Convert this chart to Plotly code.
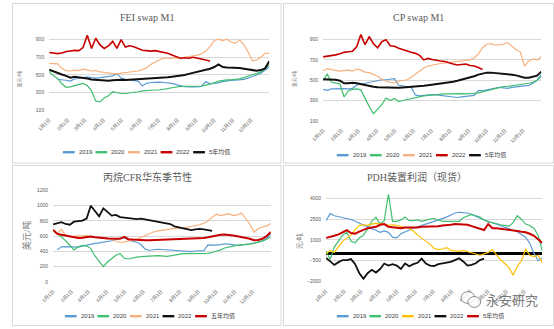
import pandas as pd
import plotly.graph_objects as go

FIG_W, FIG_H = 554, 329

# ---- shared x axis: weekly observations over one calendar year ----
week_dates = pd.date_range("2022-01-01", periods=53, freq="7D")
month_starts = pd.date_range("2022-01-01", periods=12, freq="MS")
month_labels = ["1月1日", "2月1日", "3月1日", "4月1日", "5月1日", "6月1日",
                "7月1日", "8月1日", "9月1日", "10月1日", "11月1日", "12月1日"]

# ---- FEI swap M1 (USD/t) ----
fei_2019 = [None, None, 450, 448, 440, 430, 455, 460, 470, 478, 470, 465, 470, 478, 485, 490, 515,
            465, 450, 445, 440, 430, 375, 405, 415, 420, 418, 415, 412, 405, 390, 375, 368, 365,
            362, 365, 370, 425, 400, 405, 410, 425, 435, 438, 440, 445, 450, 465, 480, 500, 520,
            550, 590]
fei_2020 = [540, 490, 460, 400, 360, 365, 380, 390, 405, 380, 320, 205, 195, 240, 265, 310, 300,
            290, 290, 295, 300, 310, 320, 325, 325, 330, 330, 335, 345, 355, 365, 370, 370, 372,
            375, 372, 375, 385, 395, 410, 430, 440, 445, 445, 450, 455, 470, 490, 505, 515, 535,
            565, 620]
fei_2021 = [630, 630, 625, 575, 550, 545, 555, 550, 565, 555, 545, 550, 535, 530, 520, 515, 515,
            520, 525, 528, 535, 545, 560, 580, 620, 650, 670, 690, 690, 685, 690, 690, 700, 705,
            715, 725, 740, 770, 820, 890, 905, 890, 905, 870, 860, 895, 840, 760, 660, 670, 700,
            745, 745]
fei_2022 = [755, 750, 742, 748, 765, 772, 778, 775, 810, 950, 800, 915, 840, 800, 830, 880, 800,
            900, 815, 830, 820, 800, 780, 775, 770, 775, 765, 755, 745, 725, 710, 690, 695, 690,
            700, 690, 685, 670, 655]
fei_avg = [560, 540, 520, 505, 490, 470, 480, 475, 470, 460, 450, 445, 440, 438, 435, 440, 445,
           445, 442, 445, 446, 448, 450, 452, 456, 462, 468, 472, 475, 480, 485, 492, 500, 512,
           525, 540, 550, 560, 570, 590, 620, 590, 585, 585, 580, 578, 570, 562, 550, 548, 555,
           575, 655]

# ---- CP swap M1 (USD/t) ----
cp_2019 = [410, 400, 415, 418, 418, 418, 415, 420, 450, 465, 470, 480, 490, 495, 505, 505, 510,
           515, 450, 445, 440, 430, 355, 345, 350, 355, 358, 355, 350, 345, 340, 335, 330, 335,
           340, 345, 350, 400, 395, 405, 415, 425, 430, 425, 420, 430, 435, 440, 445, 450, 470,
           500, 555]
cp_2020 = [500, 560, 480, 470, 465, 335, 395, 410, 415, 405, 320, 240, 170, 220, 260, 325, 300,
           320, 290, 300, 310, 320, 330, 340, 345, 350, 355, 360, 362, 365, 365, 368, 370, 368,
           365, 365, 370, 375, 385, 395, 410, 420, 430, 438, 440, 445, 450, 455, 460, 470, 480,
           500, 535]
cp_2021 = [590, 615, 605, 600, 590, 595, 600, 590, 610, 600, 580, 575, 560, 540, 510, 490, 480,
           475, 490, 495, 505, 530, 560, 585, 620, 640, 650, 660, 665, 670, 675, 680, 685, 690,
           695, 700, 720, 760, 820, 855, 860, 845, 850, 855, 870, 830, 800, 780, 640, 690, 710,
           700, 735]
cp_2022 = [730, 735, 745, 750, 760, 775, 780, 785, 830, 950, 850, 930, 860, 820, 880, 900, 840,
           835, 815, 800, 790, 775, 765, 745, 700, 715, 705, 695, 690, 685, 670, 660, 650, 655,
           660, 645, 640, 625, 605]
cp_avg = [510, 510, 508, 505, 495, 470, 470, 475, 470, 460, 450, 440, 435, 430, 428, 432, 430,
          428, 425, 428, 430, 432, 435, 440, 445, 450, 455, 460, 468, 472, 478, 485, 495, 505,
          515, 525, 540, 555, 565, 575, 575, 572, 570, 565, 562, 555, 548, 535, 525, 525, 535,
          545, 585]

# ---- Propane CFR East China (USD/t) ----
cfr_2019 = [None, 420, 460, 462, 462, 458, 455, 470, 485, 495, 505, 512, 520, 530, 540, 555, 575,
            580, 550, 535, 520, 490, 430, 415, 425, 428, 425, 420, 415, 410, 405, 400, 395, 398,
            405, 408, 410, 485, 480, 482, 488, 500, 495, 485, 480, 485, 490, 500, 510, 520, 540,
            570, 635]
cfr_2020 = [680, 640, 590, 540, 480, 420, 460, 480, 470, 440, 340, 270, 200, 260, 300, 350, 370,
            310, 300, 315, 325, 330, 335, 340, 345, 345, 340, 335, 340, 350, 365, 370, 370, 372,
            375, 375, 370, 375, 385, 400, 420, 445, 460, 470, 478, 482, 488, 495, 505, 515, 535,
            560, 590]
cfr_2021 = [690, 640, 690, 610, 590, 595, 605, 600, 610, 595, 585, 580, 575, 578, 560, 530, 520,
            525, 535, 545, 560, 585, 610, 635, 655, 670, 680, 690, 690, 700, 710, 705, 715, 720,
            730, 750, 770, 800, 850, 890, 870, 880, 895, 870, 880, 905, 840, 760, 650, 700, 720,
            735, 765]
cfr_2022 = [755, 770, 785, 760, 750, 790, 800, 805, 830, 1000, 930, 860, 965, 920, 870, 880, 850,
            845, 835, 830, 825, 830, 820, 810, 800, 790, 785, 780, 760, 730, 715, 705, 690, 680,
            690, 695, 690, 680, 670]
cfr_avg = [680, 630, 620, 610, 595, 585, 575, 580, 590, 595, 585, 575, 575, 570, 568, 570, 565,
           590, 560, 555, 550, 548, 546, 548, 550, 552, 555, 558, 560, 558, 556, 560, 562, 566,
           568, 570, 575, 585, 600, 615, 620, 622, 618, 610, 600, 590, 575, 565, 548, 550, 565,
           600, 655]

# ---- PDH unit margin, spot (CNY/t) ----
pdh_2019 = [2400, 2900, 2750, 2680, 2620, 2550, 2480, 2350, 2200, 2100, 1900, 1800, 1700, 1550,
            1650, 1550, 1200, 1150, 1450, 1600, 1750, 1850, 1950, 2050, 2100, 2200, 2300, 2400,
            2500, 2650, 2800, 2950, 3000, 3000, 2950, 2850, 2700, 2600, 2450, 2350, 2250, 2100,
            2000, 1950, 1850, 1750, 1600, 1400, 1200, 750, 50, -500, -300]
pdh_2020 = [200, -400, 500, 900, 1350, 1550, 900, 800, 1150, 1350, 1800, 2350, 2650, 2150, 2400,
            4300, 2350, 2350, 2450, 2650, 2400, 2400, 2450, 2350, 2450, 2500, 2550, 2450, 2350,
            2350, 2350, 2330, 2350, 2600, 2750, 2850, 2750, 2650, 2450, 2300, 2250, 2150, 2100,
            2050, 2000, 2250, 2750, 2500, 2150, 2050, 1850, 1350, 200]
pdh_2021 = [0, 250, 100, 500, 900, 1150, 1350, 1750, 2050, 2100, 2050, 2150, 2200, 2150, 2150,
            2050, 2100, 2050, 1950, 1900, 1850, 1650, 1350, 1150, 900, 700, 400, 300, 350, 450,
            250, 200, 180, 250, 150, 50, 0, -100, 0, 100, 300, -100, -450, -700, -1000, -1550,
            -900, -500, 350, -100, -200, -100, -650]
pdh_2022 = [-300, -550, -800, -600, -450, -450, -380, -750, -1400, -1800, -1400, -1150, -1350,
            -1100, -700, -850, -750, -850, -1100, -700, -900, -750, -650, -350, -700, -850, -880,
            -750, -700, -650, -580, -450, -320, -550, -850, -800, -680, -450, -350]
pdh_avg = [1150, 1200, 1300, 1400, 1550, 1700, 1500, 1450, 1600, 1750, 1850, 1900, 1950, 2100,
           2150, 1950, 1900, 1850, 1850, 1900, 1900, 1850, 1900, 1950, 1950, 2000, 2000, 2000,
           2050, 2050, 2100, 2150, 2150, 2150, 2100, 2000, 1900, 1800, 1720, 2150, 1850, 1850,
           1820, 1780, 1720, 1680, 1650, 1600, 1560, 1450, 1300, 1050, 780]

# ---- styling ----
C_BLUE = "#5B9BD5"
C_GREEN = "#3FBF6F"
C_PEACH = "#F8B07C"
C_YELLOW = "#FFC000"
C_RED = "#C80000"
C_BLACK = "#111111"
GRID = "#D9D9D9"
TXT = "#595959"
SANS = "Liberation Sans, Noto Sans CJK SC, sans-serif"
SERIF = "Liberation Serif, Noto Sans CJK SC, serif"


def fx(px):
    return px / FIG_W


def fy(py):
    return 1 - py / FIG_H


panels = [
    dict(box=(38, 263, 28.3, 109.3), yrange=[100, 1000], yticks=[100, 300, 500, 700, 900],
         title="FEI swap M1", title_xy=(138, 15), ylabel="美元/吨", ylabel_xy=(8, 78), ylabel_size=5,
         frame=(0.5, 275, 0.5, 163), legend_x0=52, legend_step=33.3, legend_y=152, zero=False,
         series=[("2019", fei_2019, C_BLUE, 1.2), ("2020", fei_2020, C_GREEN, 1.2),
                 ("2021", fei_2021, C_PEACH, 1.2), ("2022", fei_2022, C_RED, 1.6),
                 ("5年均值", fei_avg, C_BLACK, 2.0)]),
    dict(box=(318, 541, 27, 120), yrange=[100, 1000], yticks=[100, 300, 500, 700, 900],
         title="CP swap M1", title_xy=(415, 15), ylabel="美元/吨", ylabel_xy=(289, 78), ylabel_size=5,
         frame=(277.5, 553.5, 0.5, 163), legend_x0=332, legend_step=33.8, legend_y=155, zero=False,
         series=[("2019", cp_2019, C_BLUE, 1.2), ("2020", cp_2020, C_GREEN, 1.2),
                 ("2021", cp_2021, C_PEACH, 1.2), ("2022", cp_2022, C_RED, 1.6),
                 ("5年均值", cp_avg, C_BLACK, 2.0)]),
    dict(box=(42, 264.5, 191, 284), yrange=[0, 1200], yticks=[0, 200, 400, 600, 800, 1000, 1200],
         title="丙烷CFR华东季节性", title_xy=(139, 177), ylabel="美元/吨", ylabel_xy=(15, 237),
         ylabel_size=9, frame=(0.5, 275, 165.5, 328.5), legend_x0=54, legend_step=33.3,
         legend_y=319, zero=False,
         series=[("2019", cfr_2019, C_BLUE, 1.2), ("2020", cfr_2020, C_GREEN, 1.2),
                 ("2021", cfr_2021, C_PEACH, 1.2), ("2022", cfr_2022, C_BLACK, 1.8),
                 ("五年均值", cfr_avg, C_RED, 2.0)]),
    dict(box=(321, 542, 192, 283.7), yrange=[-2000, 4500], yticks=[-2000, -500, 1000, 2500, 4000],
         title="PDH装置利润（现货）", title_xy=(414, 177), ylabel="元/吨", ylabel_xy=(294, 243),
         ylabel_size=7, frame=(277.5, 553.5, 165.5, 328.5), legend_x0=332, legend_step=33.3,
         legend_y=319, zero=True,
         series=[("2019", pdh_2019, C_BLUE, 1.2), ("2020", pdh_2020, C_GREEN, 1.2),
                 ("2021", pdh_2021, C_YELLOW, 1.2), ("2022", pdh_2022, C_BLACK, 1.8),
                 ("5年均值", pdh_avg, C_RED, 2.0)]),
]

fig = go.Figure()
shapes = []
annotations = []

for i, p in enumerate(panels, start=1):
    sfx = "" if i == 1 else str(i)
    x0, x1, ytop, ybot = p["box"]

    for name, values, color, width in p["series"]:
        fig.add_trace(go.Scatter(
            x=week_dates[:len(values)], y=values, mode="lines", name=name,
            line=dict(color=color, width=width), connectgaps=False,
            xaxis="x" + sfx, yaxis="y" + sfx, showlegend=False, hoverinfo="skip"))

    fig.layout["xaxis" + sfx] = dict(
        domain=[fx(x0), fx(x1)], anchor="y" + sfx, type="date",
        range=["2022-01-01", "2022-12-31"], tickmode="array",
        tickvals=month_starts, ticktext=month_labels, tickangle=-45,
        tickfont=dict(family=SANS, size=4.8, color=TXT), ticklabelstandoff=5,
        showgrid=False, zeroline=False, showline=False, ticks="", fixedrange=True)
    fig.layout["yaxis" + sfx] = dict(
        domain=[fy(ybot), fy(ytop)], anchor="x" + sfx, range=p["yrange"],
        tickmode="array", tickvals=p["yticks"],
        tickfont=dict(family=SANS, size=5, color=TXT), ticklabelstandoff=4,
        showgrid=True, gridcolor=GRID, gridwidth=1, showline=False, ticks="",
        zeroline=p["zero"], zerolinecolor="#000000", zerolinewidth=2.7, fixedrange=True)

    # chart title and unit label
    tx, ty = p["title_xy"]
    annotations.append(dict(text=p["title"], x=fx(tx), y=fy(ty), xref="paper", yref="paper",
                            showarrow=False, xanchor="center", yanchor="middle",
                            font=dict(family=SERIF, size=10, color=TXT)))
    lx, ly = p["ylabel_xy"]
    annotations.append(dict(text=p["ylabel"], x=fx(lx), y=fy(ly), xref="paper", yref="paper",
                            showarrow=False, textangle=-90, xanchor="center", yanchor="middle",
                            font=dict(family=SERIF, size=p["ylabel_size"], color="#7F7F7F")))

    # outer frame of the panel
    fx0, fx1, fy0, fy1 = p["frame"]
    shapes.append(dict(type="rect", xref="paper", yref="paper", x0=fx(fx0), x1=fx(fx1),
                       y0=fy(fy1), y1=fy(fy0), line=dict(color=GRID, width=1), layer="below"))

    # compact legend row beneath the plot
    for k, (name, _, color, _) in enumerate(p["series"]):
        kx = p["legend_x0"] + k * p["legend_step"]
        ky = p["legend_y"]
        shapes.append(dict(type="line", xref="paper", yref="paper", x0=fx(kx), x1=fx(kx + 12),
                           y0=fy(ky), y1=fy(ky), line=dict(color=color, width=2.4)))
        annotations.append(dict(text=name, x=fx(kx + 14), y=fy(ky), xref="paper", yref="paper",
                                showarrow=False, xanchor="left", yanchor="middle",
                                font=dict(family=SANS, size=6, color="#404040")))

# account watermark in the lower right panel
shapes.append(dict(type="circle", xref="paper", yref="paper", x0=fx(459), x1=fx(473),
                   y0=fy(306), y1=fy(294), line=dict(color="#8C8C8C", width=1),
                   fillcolor="rgba(255,255,255,0.8)"))
shapes.append(dict(type="circle", xref="paper", yref="paper", x0=fx(466), x1=fx(479),
                   y0=fy(310), y1=fy(299), line=dict(color="#8C8C8C", width=1),
                   fillcolor="rgba(255,255,255,0.8)"))
annotations.append(dict(text="永安研究", x=fx(511), y=fy(302), xref="paper", yref="paper",
                        showarrow=False, xanchor="center", yanchor="middle",
                        font=dict(family="Noto Sans CJK SC", size=13, color="#7A7A7A")))

fig.update_layout(
    width=FIG_W, height=FIG_H, margin=dict(l=0, r=0, t=0, b=0),
    paper_bgcolor="white", plot_bgcolor="white", showlegend=False,
    shapes=shapes, annotations=annotations, hovermode=False)

fig.write_html("out.html", config={"displayModeBar": False})
